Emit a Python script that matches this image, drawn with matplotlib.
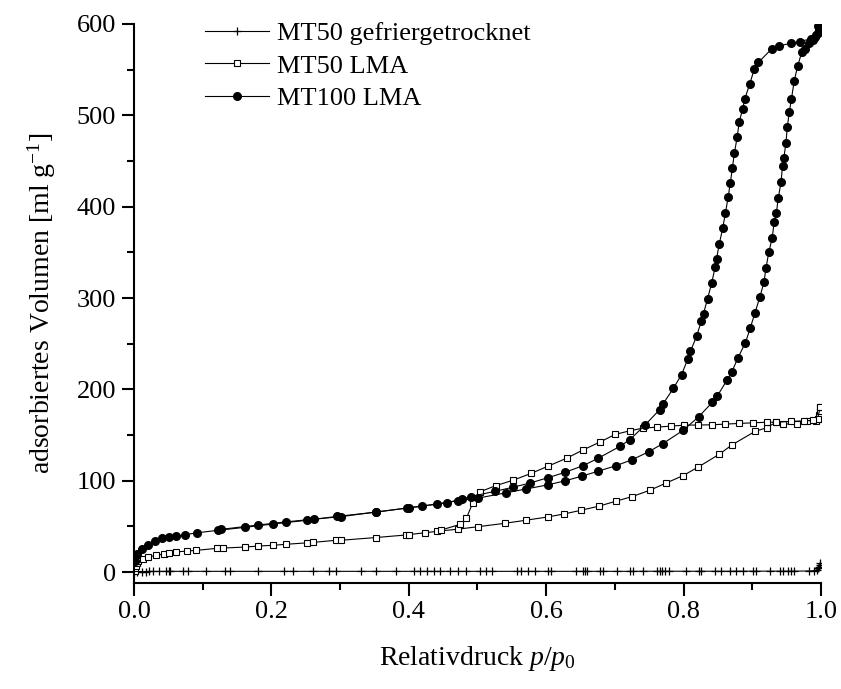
import matplotlib.pyplot as plt
import numpy as np

plt.rcParams['font.family'] = ['Liberation Serif']
plt.rcParams['mathtext.fontset'] = 'custom'
plt.rcParams['mathtext.rm'] = 'Liberation Serif'
plt.rcParams['mathtext.it'] = 'Liberation Serif:italic'

# MT50 gefriergetrocknet (adsorption + desorption, practically zero uptake)
p_gefr = [0.000, 0.005, 0.011, 0.017, 0.022, 0.028, 0.037, 0.047, 0.051, 0.053,
          0.071, 0.078, 0.105, 0.132, 0.140, 0.181, 0.218, 0.232, 0.261, 0.284,
          0.294, 0.331, 0.352, 0.382, 0.407, 0.416, 0.426, 0.436, 0.445, 0.460,
          0.472, 0.484, 0.504, 0.512, 0.521, 0.558, 0.563, 0.574, 0.584, 0.603,
          0.607, 0.644, 0.653, 0.656, 0.660, 0.678, 0.682, 0.703, 0.722, 0.727,
          0.741, 0.761, 0.765, 0.768, 0.773, 0.779, 0.803, 0.823, 0.826, 0.846,
          0.855, 0.867, 0.876, 0.886, 0.901, 0.905, 0.926, 0.940, 0.945, 0.952,
          0.956, 0.960, 0.983, 0.990, 0.994, 0.996, 0.997, 0.998, 0.999]
v_gefr = [0.0, 0.5, 0.6, 0.6, 0.7, 0.7, 0.7, 0.8, 0.8, 0.8,
          0.8, 0.8, 0.8, 0.8, 0.8, 0.8, 0.8, 0.8, 0.8, 0.8,
          0.8, 0.8, 0.8, 0.8, 0.8, 0.8, 0.8, 0.8, 0.8, 0.8,
          0.8, 0.8, 0.8, 0.8, 0.8, 0.8, 0.8, 0.8, 0.8, 0.8,
          0.8, 0.8, 0.8, 0.8, 0.8, 0.8, 0.8, 0.8, 0.8, 0.8,
          0.9, 0.9, 0.9, 0.9, 0.9, 0.9, 0.9, 0.9, 0.9, 0.9,
          0.9, 0.9, 1.0, 1.0, 1.0, 1.0, 1.0, 1.0, 1.0, 1.0,
          1.0, 1.0, 1.2, 1.5, 2.5, 4.0, 6.0, 8.0, 10.0]

# MT50 LMA adsorption
p_mt50_ads = [0.001, 0.002, 0.003, 0.004, 0.006, 0.013, 0.021, 0.032, 0.043, 0.051,
              0.061, 0.077, 0.091, 0.121, 0.130, 0.162, 0.181, 0.202, 0.221, 0.252,
              0.261, 0.294, 0.301, 0.352, 0.396, 0.400, 0.423, 0.441, 0.472, 0.501,
              0.540, 0.570, 0.602, 0.626, 0.651, 0.677, 0.702, 0.725, 0.751, 0.775,
              0.799, 0.821, 0.852, 0.870, 0.904, 0.921, 0.934, 0.944, 0.965, 0.979,
              0.993, 0.996, 0.997, 0.998, 0.999]
v_mt50_ads = [1.0, 4.0, 7.0, 10.0, 12.5, 14.6, 16.5, 18.3, 19.7, 21.2,
              22.0, 23.0, 23.8, 26.0, 26.3, 27.4, 28.5, 29.3, 30.4, 32.0,
              32.5, 34.8, 34.8, 37.8, 40.6, 41.0, 43.0, 44.6, 47.0, 49.7,
              53.4, 56.7, 60.3, 63.6, 67.7, 72.2, 77.7, 82.6, 89.6, 97.6,
              105.5, 114.8, 129.0, 139.0, 154.0, 158.0, 163.8, 162.0, 162.5, 165.0,
              165.5, 168.0, 172.0, 176.0, 180.5]

# MT50 LMA desorption
p_mt50_des = [0.999, 0.995, 0.988, 0.975, 0.956, 0.935, 0.921, 0.901, 0.881, 0.861,
              0.841, 0.821, 0.801, 0.782, 0.762, 0.741, 0.722, 0.700, 0.679, 0.654,
              0.630, 0.603, 0.578, 0.552, 0.527, 0.504, 0.493, 0.484, 0.475, 0.447]
v_mt50_des = [180.5, 168.0, 166.0, 165.5, 165.0, 164.0, 164.0, 163.4, 162.7, 162.0,
              161.2, 161.0, 160.8, 159.8, 158.7, 157.6, 154.7, 150.6, 142.6, 133.8,
              124.7, 116.0, 108.0, 100.6, 94.7, 88.0, 75.7, 59.0, 52.3, 46.0]

# MT100 LMA adsorption
p_mt100_ads = [0.002, 0.004, 0.011, 0.021, 0.031, 0.041, 0.051, 0.061, 0.075, 0.092,
               0.122, 0.162, 0.202, 0.252, 0.296, 0.352, 0.401, 0.441, 0.471, 0.501,
               0.541, 0.571, 0.602, 0.627, 0.652, 0.676, 0.701, 0.725, 0.749, 0.770,
               0.799, 0.822, 0.842, 0.849, 0.863, 0.870, 0.879, 0.890, 0.897, 0.904,
               0.911, 0.917, 0.920, 0.924, 0.929, 0.932, 0.935, 0.938, 0.942, 0.944,
               0.946, 0.949, 0.951, 0.954, 0.957, 0.961, 0.966, 0.972, 0.977, 0.982,
               0.988, 0.992, 0.995, 0.997]
v_mt100_ads = [12.0, 20.0, 25.0, 30.0, 34.0, 37.0, 38.7, 39.0, 41.0, 43.0,
               45.7, 49.0, 52.6, 56.7, 61.0, 65.5, 70.5, 74.6, 78.0, 81.0,
               86.7, 91.0, 95.4, 99.8, 105.0, 110.5, 116.3, 123.0, 131.6, 140.7,
               155.0, 170.0, 186.0, 192.7, 209.8, 218.6, 234.4, 251.0, 267.0, 284.0,
               301.0, 317.3, 333.0, 350.0, 366.0, 383.5, 393.0, 410.0, 427.5, 444.7,
               453.7, 469.8, 487.4, 504.0, 518.0, 537.5, 554.0, 569.0, 573.0, 579.0,
               583.0, 586.0, 590.0, 595.0]

# MT100 LMA desorption
p_mt100_des = [0.997, 0.996, 0.993, 0.985, 0.969, 0.957, 0.939, 0.928, 0.909, 0.903,
               0.896, 0.889, 0.886, 0.881, 0.878, 0.874, 0.871, 0.868, 0.865, 0.861,
               0.857, 0.852, 0.848, 0.846, 0.841, 0.835, 0.829, 0.826, 0.819, 0.810,
               0.806, 0.797, 0.785, 0.770, 0.765, 0.744, 0.722, 0.707, 0.676, 0.654,
               0.628, 0.603, 0.577, 0.552, 0.526, 0.490, 0.478, 0.456, 0.419, 0.397,
               0.352, 0.302, 0.262, 0.222, 0.181, 0.127]
v_mt100_des = [595.0, 598.0, 588.0, 583.7, 580.8, 579.0, 576.0, 572.6, 558.0, 550.6,
               533.8, 517.7, 507.0, 493.0, 476.0, 459.0, 442.0, 426.0, 411.0, 393.4,
               376.6, 359.4, 343.0, 333.8, 316.8, 299.4, 283.0, 275.0, 258.5, 241.5,
               233.0, 216.0, 201.0, 184.0, 177.7, 161.0, 145.0, 137.5, 124.7, 116.6,
               109.3, 103.4, 97.6, 92.9, 88.5, 82.6, 80.0, 76.0, 72.0, 70.0,
               65.8, 60.7, 58.0, 55.0, 51.5, 46.8]

fig = plt.figure(figsize=(8.41, 6.89), dpi=100)
ax = fig.add_axes([0.1593, 0.1538, 0.8169, 0.8114])

line_kw = dict(color='black', linewidth=0.8)

ax.plot(p_gefr, v_gefr, marker='+', markersize=6, markeredgewidth=0.9,
        label='MT50 gefriergetrocknet', **line_kw)
ax.plot(p_mt50_ads, v_mt50_ads, marker='s', markersize=5, markerfacecolor='white',
        markeredgecolor='black', markeredgewidth=0.8, label='MT50 LMA', **line_kw)
ax.plot(p_mt50_des, v_mt50_des, marker='s', markersize=5, markerfacecolor='white',
        markeredgecolor='black', markeredgewidth=0.8, **line_kw)
ax.plot(p_mt100_ads, v_mt100_ads, marker='o', markersize=5.5, markerfacecolor='black',
        markeredgecolor='black', label='MT100 LMA', **line_kw)
ax.plot(p_mt100_des, v_mt100_des, marker='o', markersize=5.5, markerfacecolor='black',
        markeredgecolor='black', **line_kw)

ax.set_xlim(0, 1.0)
ax.set_ylim(-12, 600)
ax.set_xticks(np.arange(0, 1.01, 0.2))
ax.set_xticks(np.arange(0.1, 1.0, 0.2), minor=True)
ax.set_yticks(np.arange(0, 601, 100))
ax.set_yticks(np.arange(50, 600, 100), minor=True)
ax.xaxis.set_major_formatter(plt.FuncFormatter(lambda v, pos: f'{v:.1f}'))

for side in ['top', 'right']:
    ax.spines[side].set_visible(False)
for side in ['left', 'bottom']:
    ax.spines[side].set_linewidth(1.5)

ax.tick_params(which='major', direction='out', length=9, width=1.5, labelsize=19, pad=4)
ax.tick_params(which='minor', direction='out', length=5, width=1.5)

ax.set_xlabel('Relativdruck $\\mathit{p/p_{0}}$', fontsize=20, labelpad=15)
ax.set_ylabel('adsorbiertes Volumen [ml g$^{\\mathrm{-1}}$]', fontsize=20, labelpad=13)

ax.legend(loc='upper left', bbox_to_anchor=(0.103, 1.004), frameon=False, fontsize=19,
          handlelength=2.45, handletextpad=0.27, labelspacing=0.34, borderpad=0,
          borderaxespad=0, numpoints=1)

fig.savefig('out.png', dpi=100)
